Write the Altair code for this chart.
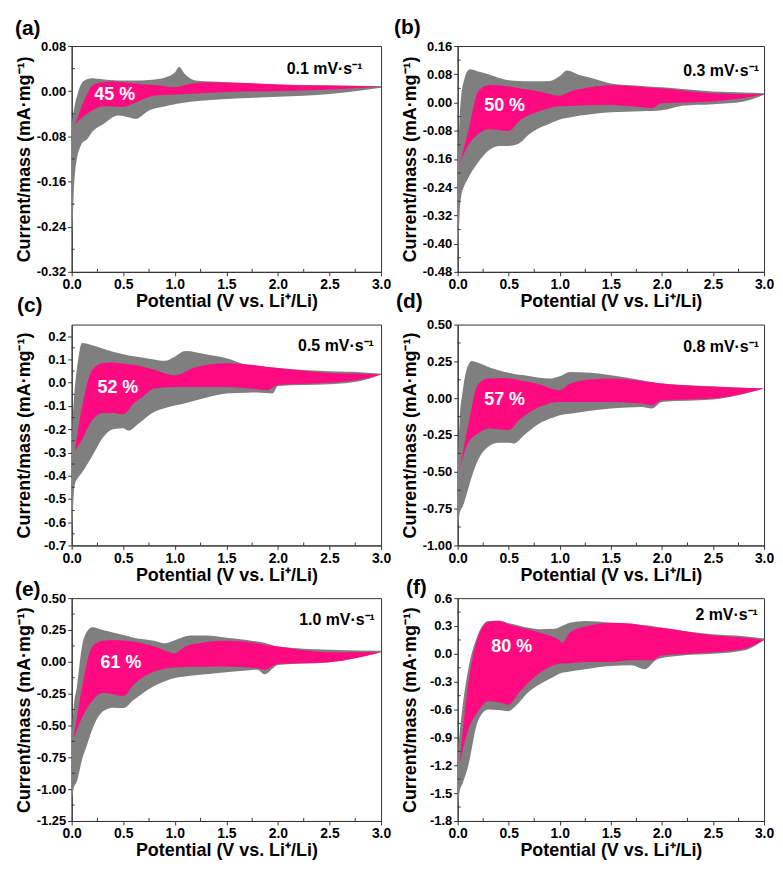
import altair as alt
import pandas as pd

FONT = "Liberation Sans"
GRAY = "#7f7f7f"
PINK = "#ff0a80"
AXC = "#333333"

x_ticks = [0.0, 0.5, 1.0, 1.5, 2.0, 2.5, 3.0]
x_minor = [0.25, 0.75, 1.25, 1.75, 2.25, 2.75]

# ---------- panel (a) 0.1 mV/s ----------
a_gx = [0, 0.008, 0.02, 0.035, 0.05, 0.08, 0.1, 0.15, 0.2, 0.3, 0.45, 0.55, 0.62, 0.75, 0.9, 1.0, 1.04, 1.1, 1.2, 1.5, 2.0, 2.5, 3.0]
a_glo = [-0.26, -0.24, -0.18, -0.14, -0.12, -0.1, -0.092, -0.085, -0.072, -0.059, -0.043, -0.046, -0.049, -0.034, -0.027, -0.023, -0.022, -0.02, -0.018, -0.014, -0.01, -0.005, 0.006]
a_ghi = [-0.06, -0.05, -0.035, -0.02, -0.01, 0.008, 0.015, 0.021, 0.023, 0.021, 0.019, 0.019, 0.019, 0.02, 0.024, 0.033, 0.043, 0.03, 0.019, 0.016, 0.012, 0.01, 0.009]
a_px = [0.03, 0.05, 0.1, 0.15, 0.2, 0.3, 0.4, 0.5, 0.6, 0.7, 0.8, 1.0, 1.1, 1.3, 1.6, 2.0, 2.5, 3.0]
a_plo = [-0.059, -0.055, -0.047, -0.04, -0.034, -0.027, -0.027, -0.028, -0.022, -0.014, -0.008, -0.006, -0.005, -0.003, -0.001, 0.0, 0.003, 0.008]
a_phi = [-0.059, -0.05, -0.025, -0.005, 0.01, 0.016, 0.017, 0.016, 0.014, 0.012, 0.011, 0.007, 0.011, 0.016, 0.015, 0.012, 0.01, 0.008]
a_yticks = [-0.32, -0.24, -0.16, -0.08, 0.0, 0.08]
a_yminor = [-0.28, -0.20, -0.12, -0.04, 0.04]

# ---------- panel (b) 0.3 mV/s ----------
b_gx = [0, 0.008, 0.02, 0.035, 0.06, 0.1, 0.12, 0.2, 0.3, 0.4, 0.5, 0.6, 0.7, 0.8, 0.9, 1.0, 1.07, 1.2, 1.3, 1.5, 1.8, 2.0, 2.2, 2.5, 2.8, 3.0]
b_glo = [-0.43, -0.4, -0.31, -0.265, -0.24, -0.216, -0.205, -0.17, -0.137, -0.123, -0.123, -0.116, -0.09, -0.072, -0.06, -0.048, -0.044, -0.037, -0.033, -0.028, -0.025, -0.022, -0.009, -0.005, 0.003, 0.022]
b_ghi = [-0.17, -0.12, -0.04, 0.02, 0.06, 0.091, 0.094, 0.088, 0.08, 0.07, 0.063, 0.061, 0.06, 0.06, 0.061, 0.075, 0.091, 0.077, 0.07, 0.054, 0.047, 0.043, 0.038, 0.031, 0.028, 0.026]
b_px = [0.02, 0.1, 0.2, 0.3, 0.4, 0.5, 0.6, 0.8, 1.0, 1.1, 1.3, 1.5, 1.7, 1.9, 2.0, 2.5, 3.0]
b_plo = [-0.174, -0.123, -0.09, -0.076, -0.078, -0.081, -0.053, -0.025, -0.011, -0.01, -0.008, -0.007, -0.011, -0.016, -0.002, 0.003, 0.023]
b_phi = [-0.174, -0.086, 0.031, 0.049, 0.049, 0.045, 0.04, 0.031, 0.019, 0.031, 0.043, 0.049, 0.047, 0.042, 0.04, 0.026, 0.023]
b_yticks = [-0.48, -0.40, -0.32, -0.24, -0.16, -0.08, 0.0, 0.08, 0.16]
b_yminor = [-0.44, -0.36, -0.28, -0.20, -0.12, -0.04, 0.04, 0.12]

# ---------- panel (c) 0.5 mV/s ----------
c_gx = [0, 0.008, 0.02, 0.035, 0.06, 0.1, 0.2, 0.3, 0.4, 0.5, 0.55, 0.65, 0.8, 0.9, 1.0, 1.1, 1.3, 1.5, 1.7, 1.8, 1.95, 2.0, 2.5, 2.8, 3.0]
c_glo = [-0.65, -0.6, -0.48, -0.43, -0.41, -0.386, -0.315, -0.238, -0.2, -0.196, -0.206, -0.175, -0.126, -0.11, -0.098, -0.088, -0.065, -0.046, -0.043, -0.042, -0.046, -0.014, -0.007, 0.007, 0.035]
c_ghi = [-0.29, -0.18, -0.08, 0.0, 0.09, 0.171, 0.161, 0.147, 0.133, 0.122, 0.117, 0.11, 0.1, 0.094, 0.112, 0.136, 0.122, 0.105, 0.077, 0.072, 0.065, 0.063, 0.049, 0.045, 0.038]
c_px = [0.03, 0.1, 0.2, 0.3, 0.4, 0.5, 0.6, 0.7, 0.8, 1.0, 1.2, 1.5, 1.8, 1.9, 2.0, 2.5, 2.8, 3.0]
c_plo = [-0.294, -0.245, -0.161, -0.13, -0.13, -0.136, -0.091, -0.056, -0.025, -0.018, -0.018, -0.018, -0.028, -0.032, -0.01, 0.0, 0.014, 0.035]
c_phi = [-0.294, -0.105, 0.056, 0.084, 0.087, 0.082, 0.077, 0.067, 0.056, 0.032, 0.066, 0.084, 0.074, 0.068, 0.063, 0.042, 0.038, 0.035]
c_yticks = [-0.7, -0.6, -0.5, -0.4, -0.3, -0.2, -0.1, 0.0, 0.1, 0.2]
c_yminor = [-0.65, -0.55, -0.45, -0.35, -0.25, -0.15, -0.05, 0.05, 0.15]

# ---------- panel (d) 0.8 mV/s ----------
d_gx = [0, 0.008, 0.02, 0.05, 0.1, 0.14, 0.2, 0.3, 0.4, 0.5, 0.55, 0.65, 0.8, 0.9, 1.0, 1.1, 1.3, 1.5, 1.8, 1.9, 2.0, 2.5, 3.0]
d_glo = [-0.88, -0.84, -0.78, -0.736, -0.624, -0.53, -0.42, -0.33, -0.303, -0.303, -0.307, -0.251, -0.172, -0.14, -0.115, -0.105, -0.085, -0.07, -0.059, -0.07, -0.025, -0.009, 0.066]
d_ghi = [-0.48, -0.33, -0.15, 0.05, 0.22, 0.253, 0.24, 0.212, 0.19, 0.172, 0.165, 0.155, 0.139, 0.133, 0.149, 0.178, 0.172, 0.156, 0.122, 0.11, 0.099, 0.081, 0.066]
d_px = [0.02, 0.1, 0.2, 0.3, 0.45, 0.5, 0.6, 0.8, 1.0, 1.1, 1.3, 1.5, 1.8, 1.9, 2.0, 2.5, 3.0]
d_plo = [-0.483, -0.307, -0.24, -0.206, -0.215, -0.217, -0.149, -0.059, -0.025, -0.025, -0.025, -0.025, -0.036, -0.047, -0.014, -0.002, 0.066]
d_phi = [-0.483, -0.194, 0.095, 0.133, 0.138, 0.135, 0.122, 0.095, 0.054, 0.099, 0.127, 0.133, 0.117, 0.108, 0.099, 0.077, 0.066]
d_yticks = [-1.0, -0.75, -0.5, -0.25, 0.0, 0.25, 0.5]
d_yminor = [-0.875, -0.625, -0.375, -0.125, 0.125, 0.375]

# ---------- panel (e) 1.0 mV/s ----------
e_gx = [0, 0.008, 0.02, 0.05, 0.1, 0.15, 0.2, 0.3, 0.4, 0.5, 0.6, 0.8, 0.9, 1.0, 1.15, 1.3, 1.5, 1.7, 1.8, 1.87, 2.0, 2.5, 3.0]
e_glo = [-1.1, -1.05, -0.99, -0.94, -0.77, -0.65, -0.53, -0.39, -0.36, -0.363, -0.3, -0.19, -0.155, -0.128, -0.11, -0.097, -0.081, -0.068, -0.063, -0.097, -0.024, -0.003, 0.075]
e_ghi = [-0.6, -0.48, -0.35, -0.2, 0.12, 0.24, 0.272, 0.25, 0.23, 0.21, 0.19, 0.165, 0.146, 0.17, 0.206, 0.206, 0.19, 0.172, 0.16, 0.15, 0.12, 0.094, 0.086]
e_px = [0.02, 0.1, 0.2, 0.3, 0.4, 0.5, 0.6, 0.8, 1.0, 1.1, 1.3, 1.5, 1.8, 1.87, 2.0, 2.5, 3.0]
e_plo = [-0.6, -0.44, -0.306, -0.245, -0.255, -0.27, -0.18, -0.076, -0.044, -0.04, -0.038, -0.037, -0.05, -0.063, -0.018, -0.003, 0.075]
e_phi = [-0.6, -0.206, 0.12, 0.165, 0.172, 0.168, 0.16, 0.12, 0.068, 0.12, 0.154, 0.165, 0.146, 0.135, 0.12, 0.076, 0.075]
e_yticks = [-1.25, -1.0, -0.75, -0.5, -0.25, 0.0, 0.25, 0.5]
e_yminor = [-1.125, -0.875, -0.625, -0.375, -0.125, 0.125, 0.375]

# ---------- panel (f) 2 mV/s ----------
f_gx = [0, 0.008, 0.02, 0.05, 0.1, 0.2, 0.3, 0.4, 0.5, 0.55, 0.7, 0.8, 0.95, 1.0, 1.1, 1.25, 1.5, 1.7, 1.83, 1.95, 2.0, 2.2, 2.5, 2.8, 3.0]
f_glo = [-1.67, -1.58, -1.48, -1.39, -1.22, -0.72, -0.6, -0.605, -0.617, -0.58, -0.406, -0.33, -0.24, -0.212, -0.19, -0.165, -0.13, -0.124, -0.166, -0.06, -0.045, -0.018, 0.0, 0.035, 0.15]
f_ghi = [-1.2, -1.0, -0.85, -0.55, -0.19, 0.21, 0.353, 0.36, 0.33, 0.32, 0.28, 0.265, 0.27, 0.29, 0.335, 0.353, 0.335, 0.32, 0.31, 0.29, 0.28, 0.25, 0.21, 0.19, 0.166]
f_px = [0.02, 0.1, 0.2, 0.3, 0.4, 0.5, 0.6, 0.8, 1.0, 1.02, 1.1, 1.3, 1.5, 1.7, 1.9, 2.0, 2.3, 2.5, 2.8, 3.0]
f_plo = [-1.18, -0.83, -0.62, -0.51, -0.52, -0.547, -0.42, -0.21, -0.106, -0.105, -0.1, -0.088, -0.088, -0.07, -0.07, -0.018, 0.005, 0.018, 0.053, 0.15]
f_phi = [-1.18, -0.35, 0.176, 0.342, 0.353, 0.32, 0.29, 0.23, 0.14, 0.116, 0.23, 0.307, 0.335, 0.328, 0.29, 0.282, 0.23, 0.2, 0.175, 0.15]
f_yticks = [-1.8, -1.5, -1.2, -0.9, -0.6, -0.3, 0.0, 0.3, 0.6]
f_yminor = [-1.65, -1.35, -1.05, -0.75, -0.45, -0.15, 0.15, 0.45]

panel_labels = ["(a)", "(b)", "(c)", "(d)", "(e)", "(f)"]
rates = ["0.1 mV·s⁻¹", "0.3 mV·s⁻¹", "0.5 mV·s⁻¹", "0.8 mV·s⁻¹", "1.0 mV·s⁻¹", "2 mV·s⁻¹"]
percents = ["45 %", "50 %", "52 %", "57 %", "61 %", "80 %"]

X_TITLE = "Potential (V vs. Li⁺/Li)"
Y_TITLE = "Current/mass (mA·mg⁻¹)"


def panel(gx, glo, ghi, px, plo, phi, ydom, yticks, yminor, yfmt, W, H,
          label, ldx, ldy, rate, rx, ry, pct, pcx, pcy):
    xs = alt.Scale(domain=[0, 3], nice=False, zero=False, padding=0)
    ys = alt.Scale(domain=ydom, nice=False, zero=False, padding=0)
    xaxis = alt.Axis(values=x_ticks, format=".1f", title=X_TITLE, grid=False,
                     labelFlush=False, labelFontSize=14, titlePadding=1, labelPadding=2)
    yaxis = alt.Axis(values=yticks, title=Y_TITLE, grid=False, labelFlush=False,
                     labelExpr=f"replace(format(datum.value, '{yfmt}'), '\u2212', '-')",
                     labelFontSize=13, labelPadding=2, titleX=-38)

    def X(f):
        return alt.X(f, type="quantitative", scale=xs, axis=xaxis)

    def Y(f):
        return alt.Y(f, type="quantitative", scale=ys, axis=yaxis)

    gdf = pd.DataFrame({"x": gx, "lo": glo, "hi": ghi})
    pdf = pd.DataFrame({"x": px, "lo": plo, "hi": phi})
    gray = alt.Chart(gdf).mark_area(color=GRAY, interpolate="monotone", opacity=1).encode(
        x=X("x"), y=Y("lo"), y2="hi:Q")
    pink = alt.Chart(pdf).mark_area(color=PINK, interpolate="monotone", opacity=1).encode(
        x=X("x"), y=Y("lo"), y2="hi:Q")
    xm = alt.Chart(pd.DataFrame({"x": x_minor})).mark_rule(color=AXC, strokeWidth=1).encode(
        x=X("x"), y=alt.value(H), y2=alt.value(H - 3))
    ym = alt.Chart(pd.DataFrame({"lo": yminor})).mark_rule(color=AXC, strokeWidth=1).encode(
        y=Y("lo"), x=alt.value(0), x2=alt.value(3))
    rate_t = alt.Chart(pd.DataFrame({"x": [rx], "lo": [ry], "t": [rate]})).mark_text(
        align="right", baseline="alphabetic", font=FONT, fontSize=16, fontWeight="bold",
        color="black").encode(x=X("x"), y=Y("lo"), text="t:N")
    pct_t = alt.Chart(pd.DataFrame({"x": [pcx], "lo": [pcy], "t": [pct]})).mark_text(
        align="left", baseline="alphabetic", font=FONT, fontSize=18, fontWeight="bold",
        color="white").encode(x=X("x"), y=Y("lo"), text="t:N")
    lab = alt.Chart(pd.DataFrame({"t": [label]})).mark_text(
        align="left", baseline="alphabetic", font=FONT, fontSize=21, fontWeight="bold",
        color="black").encode(x=alt.value(ldx), y=alt.value(ldy), text="t:N")
    return alt.layer(gray, pink, xm, ym, rate_t, pct_t, lab).properties(width=W, height=H)


WL, WR = 311, 308
H1, H2, H3 = 227, 222, 224

pa = panel(a_gx, a_glo, a_ghi, a_px, a_plo, a_phi, [-0.32, 0.08], a_yticks, a_yminor, ".2f",
           WL, H1, panel_labels[0], -57, -11, rates[0], 2.82, 0.031, percents[0], 0.22, -0.016)
pb = panel(b_gx, b_glo, b_ghi, b_px, b_plo, b_phi, [-0.48, 0.16], b_yticks, b_yminor, ".2f",
           WR, H1, panel_labels[1], -64, -12, rates[1], 2.95, 0.076, percents[1], 0.26, -0.025)
pc = panel(c_gx, c_glo, c_ghi, c_px, c_plo, c_phi, [-0.7, 0.25], c_yticks, c_yminor, ".1f",
           WL, H2, panel_labels[2], -55, -13, rates[2], 2.93, 0.137, percents[2], 0.25, -0.046)
pd_ = panel(d_gx, d_glo, d_ghi, d_px, d_plo, d_phi, [-1.0, 0.5], d_yticks, d_yminor, ".2f",
            WR, H2, panel_labels[3], -62, -17, rates[3], 2.95, 0.316, percents[3], 0.26, -0.047)
pe = panel(e_gx, e_glo, e_ghi, e_px, e_plo, e_phi, [-1.25, 0.5], e_yticks, e_yminor, ".2f",
           WL, H3, panel_labels[4], -57, -2, rates[4], 2.94, 0.29, percents[4], 0.28, -0.05)
pf = panel(f_gx, f_glo, f_ghi, f_px, f_plo, f_phi, [-1.8, 0.6], f_yticks, f_yminor, ".1f",
           WR, H3, panel_labels[5], -52, -4, rates[5], 2.94, 0.367, percents[5], 0.33, 0.018)

chart = alt.concat(pa, pb, pc, pd_, pe, pf, columns=2,
                   spacing={"row": 53, "column": 77}, bounds="flush").properties(
    padding={"left": 6, "top": 6, "right": 0, "bottom": 0},
    background="white"
).configure_view(
    stroke=AXC, strokeWidth=1
).configure_axis(
    grid=False, domainColor=AXC, tickColor=AXC, tickSize=4, domainWidth=1,
    labelFont=FONT, labelFontWeight="bold", labelColor="black",
    titleFont=FONT, titleFontWeight="bold", titleFontSize=18, titleColor="black",
)

chart.save("out.html", embed_options={"renderer": "svg", "actions": False})
